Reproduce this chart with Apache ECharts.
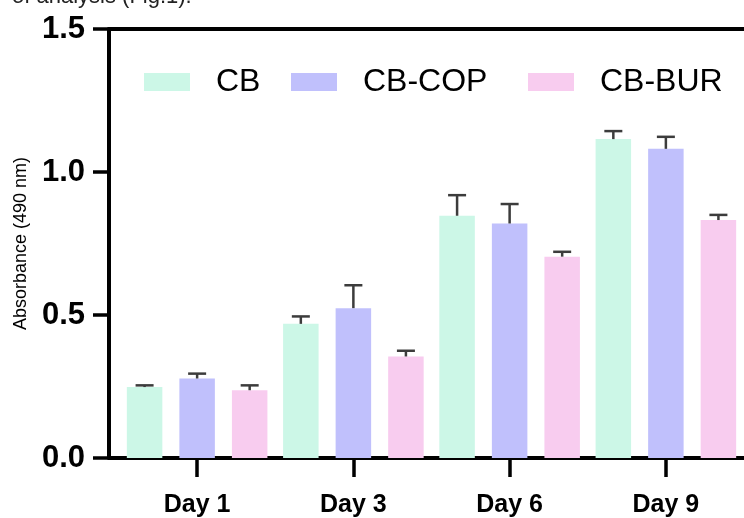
<!DOCTYPE html>
<html>
<head>
<meta charset="utf-8">
<script src="https://cdn.jsdelivr.net/npm/echarts@6/dist/echarts.min.js"></script>
<style>html,body{margin:0;padding:0;background:#fff}#c{width:744px;height:518px}</style>
</head>
<body>
<div id="c"></div>
<script>
const categories = ['Day 1', 'Day 3', 'Day 6', 'Day 9'];
const seriesNames = ['CB', 'CB-COP', 'CB-BUR'];
const cbMean = [0.248, 0.469, 0.847, 1.115];
const cbSD = [0.006, 0.026, 0.072, 0.028];
const copMean = [0.278, 0.524, 0.820, 1.081];
const copSD = [0.017, 0.080, 0.068, 0.042];
const burMean = [0.237, 0.355, 0.704, 0.832];
const burSD = [0.017, 0.020, 0.017, 0.018];
const yTicks = [0, 0.5, 1.0, 1.5];

const colors = ['#CCF7E7', '#C0C0FC', '#F8CCEF'];
const means = [cbMean, copMean, burMean];
const sds = [cbSD, copSD, burSD];
const FONT = '"Liberation Sans", Arial, sans-serif';
const BAR_W = 35.5, BAR_GAP = 0.48;
const STEP = BAR_W * (1 + BAR_GAP);

const chart = echarts.init(document.getElementById('c'));

const barSeries = seriesNames.map((n, i) => ({
  name: n, type: 'bar', xAxisIndex: 0, yAxisIndex: 0,
  data: means[i], barWidth: BAR_W, barGap: (BAR_GAP * 100) + '%',
  itemStyle: { color: colors[i] }, z: 2
}));

const errSeries = seriesNames.map((n, i) => ({
  type: 'custom', xAxisIndex: 0, yAxisIndex: 0, z: 5, silent: true,
  data: means[i].map((m, k) => [k, m, m + sds[i][k]]),
  encode: { x: 0, y: [1, 2] },
  renderItem: function (params, api) {
    const c = api.coord([api.value(0), api.value(1)]);
    const h = api.coord([api.value(0), api.value(2)]);
    const x = c[0] + (i - 1) * STEP;
    const st = { stroke: '#3c3c3c', lineWidth: 2.5 };
    return {
      type: 'group', children: [
        { type: 'line', shape: { x1: x, y1: c[1], x2: x, y2: h[1] }, style: st },
        { type: 'line', shape: { x1: x - 9, y1: h[1], x2: x + 9, y2: h[1] }, style: st }
      ]
    };
  }
}));

const legends = seriesNames.map((n, i) => ({
  data: [n], left: [144, 291, 528][i], top: 66, padding: 0,
  itemWidth: 46, itemHeight: 18, icon: 'rect', selectedMode: false,
  textStyle: { fontSize: 32, fontFamily: FONT, color: '#000', padding: [0, 0, 0, 21] }
}));

chart.setOption({
  animation: false,
  backgroundColor: '#fff',
  textStyle: { fontFamily: FONT },
  legend: legends,
  grid: [
    { left: 119, width: 626, top: 29, bottom: 60 },
    { left: 109, right: -10, top: 29, bottom: 60 }
  ],
  xAxis: [
    { type: 'category', gridIndex: 0, data: categories,
      axisLine: { show: false },
      axisTick: { show: true, alignWithLabel: true, length: 19, lineStyle: { color: '#000', width: 3.5 } },
      axisLabel: { fontSize: 25, fontWeight: 'bold', color: '#000', margin: 35, fontFamily: FONT } },
    { type: 'value', gridIndex: 1, min: 0, max: 1, position: 'bottom',
      axisLine: { show: true, lineStyle: { color: '#000', width: 4 } },
      axisTick: { show: false }, axisLabel: { show: false }, splitLine: { show: false } },
    { type: 'value', gridIndex: 1, min: 0, max: 1, position: 'top',
      axisLine: { show: true, lineStyle: { color: '#000', width: 4 } },
      axisTick: { show: false }, axisLabel: { show: false }, splitLine: { show: false } }
  ],
  yAxis: [
    { type: 'value', gridIndex: 0, min: 0, max: 1.5, show: false },
    { type: 'value', gridIndex: 1, min: 0, max: 1.5, interval: 0.5,
      axisLine: { show: true, lineStyle: { color: '#000', width: 4 } },
      axisTick: { show: true, length: 16, lineStyle: { color: '#000', width: 3.5 } },
      axisLabel: { fontSize: 31, fontWeight: 'bold', color: '#000', margin: 24, fontFamily: FONT,
        formatter: v => yTicks.includes(v) ? v.toFixed(1) : '' },
      splitLine: { show: false },
      name: 'Absorbance (490 nm)', nameLocation: 'middle', nameRotate: 90, nameGap: 79,
      nameTextStyle: { fontSize: 18, color: '#000', fontFamily: FONT } }
  ],
  graphic: [
    { type: 'text', left: 12, top: -14, silent: true,
      style: { text: 'of analysis (Fig.1).', fontSize: 22, fontFamily: FONT, fill: '#222' } }
  ],
  series: barSeries.concat(errSeries)
});
</script>
</body>
</html>
